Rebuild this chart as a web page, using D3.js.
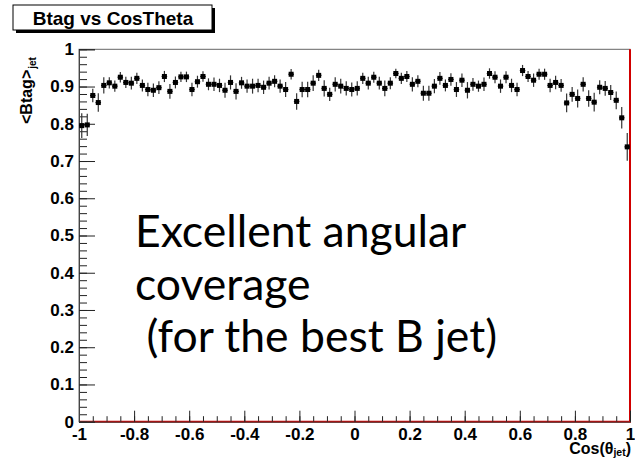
<!DOCTYPE html>
<html>
<head>
<meta charset="utf-8">
<script src="https://cdn.jsdelivr.net/npm/d3@7"></script>
<style>
  html, body { margin: 0; padding: 0; background: #fff; }
  svg { display: block; }
  .lbl { font-family: "Liberation Sans", Arial, sans-serif; font-weight: bold; }
</style>
</head>
<body>
<svg id="chart" width="635" height="459"></svg>
<script>
// Histogram binning along cos(theta_jet)
const xMin = -1, xMax = 1, nBins = 100;

// Mean b-tag value per bin
const meanBtag = [
  0.795, 0.797, 0.876, 0.857, 0.903, 0.910, 0.901, 0.925, 0.911, 0.909,
  0.922, 0.903, 0.892, 0.890, 0.897, 0.927, 0.887, 0.911, 0.926, 0.926,
  0.892, 0.913, 0.927, 0.906, 0.906, 0.903, 0.890, 0.911, 0.887, 0.910,
  0.901, 0.901, 0.903, 0.898, 0.909, 0.914, 0.901, 0.892, 0.933, 0.860,
  0.892, 0.892, 0.909, 0.930, 0.895, 0.879, 0.906, 0.901, 0.895, 0.892,
  0.895, 0.922, 0.909, 0.925, 0.909, 0.895, 0.909, 0.935, 0.922, 0.927,
  0.906, 0.914, 0.882, 0.882, 0.901, 0.922, 0.903, 0.919, 0.892, 0.917,
  0.890, 0.906, 0.901, 0.906, 0.935, 0.925, 0.901, 0.925, 0.903, 0.892,
  0.943, 0.927, 0.917, 0.933, 0.933, 0.903, 0.911, 0.903, 0.856, 0.879,
  0.868, 0.906, 0.868, 0.858, 0.898, 0.895, 0.884, 0.863, 0.816, 0.738
];

// Uncertainty on the mean per bin
const meanErr = [
  0.033, 0.030, 0.018, 0.025, 0.022, 0.015, 0.015, 0.014, 0.015, 0.017,
  0.015, 0.016, 0.018, 0.018, 0.017, 0.015, 0.020, 0.016, 0.014, 0.014,
  0.018, 0.016, 0.014, 0.016, 0.018, 0.018, 0.020, 0.019, 0.022, 0.016,
  0.018, 0.020, 0.018, 0.018, 0.017, 0.016, 0.018, 0.020, 0.014, 0.022,
  0.021, 0.021, 0.021, 0.015, 0.022, 0.018, 0.019, 0.020, 0.019, 0.019,
  0.019, 0.015, 0.017, 0.015, 0.017, 0.021, 0.016, 0.013, 0.015, 0.015,
  0.019, 0.016, 0.020, 0.020, 0.019, 0.017, 0.016, 0.017, 0.020, 0.018,
  0.022, 0.017, 0.015, 0.018, 0.014, 0.016, 0.018, 0.016, 0.018, 0.018,
  0.015, 0.015, 0.018, 0.015, 0.015, 0.018, 0.018, 0.017, 0.025, 0.020,
  0.024, 0.019, 0.022, 0.025, 0.019, 0.020, 0.020, 0.024, 0.029, 0.037
];

const xTickLabels = [-1, -0.8, -0.6, -0.4, -0.2, 0, 0.2, 0.4, 0.6, 0.8, 1];
const yTickLabels = [0, 0.1, 0.2, 0.3, 0.4, 0.5, 0.6, 0.7, 0.8, 0.9, 1];

const titleText = "Btag vs CosTheta";
const noteLines = ["Excellent angular", "coverage", " (for the best B jet)"];

const svg = d3.select("#chart");
const frame = { left: 79, right: 630, top: 49.3, bottom: 421.7 };

const x = d3.scaleLinear().domain([xMin, xMax]).range([frame.left, frame.right]);
const y = d3.scaleLinear().domain([0, 1]).range([frame.bottom, frame.top]);

const binW = (xMax - xMin) / nBins;
const data = meanBtag.map((v, i) => ({
  lo: xMin + i * binW,
  hi: xMin + (i + 1) * binW,
  c: xMin + (i + 0.5) * binW,
  v: v,
  e: meanErr[i]
}));

// plain hyphen-minus labels
const fmt = d => String(d);

// frame
svg.append("rect")
  .attr("x", frame.left).attr("y", frame.top)
  .attr("width", frame.right - frame.left).attr("height", frame.bottom - frame.top)
  .attr("fill", "none").attr("stroke", "#666").attr("stroke-width", 1);

// reference histogram outline in red (bottom edge and right edge)
svg.append("path")
  .attr("d", `M${x(xMin)},${y(0)} L${x(xMax)},${y(0)} L${x(xMax)},${y(1)}`)
  .attr("fill", "none").attr("stroke", "#d00000").attr("stroke-width", 2);

// minor ticks
const xMinor = d3.range(-1, 1.0001, 0.05).map(d => +d.toFixed(2));
const yMinor = d3.range(0, 1.0001, 0.02).map(d => +d.toFixed(2));

svg.append("g")
  .attr("transform", `translate(0,${frame.bottom})`)
  .call(d3.axisBottom(x).tickValues(xMinor).tickSize(-5.5).tickFormat(""))
  .call(g => g.select(".domain").remove())
  .call(g => g.selectAll("line").attr("stroke", "#222"));

svg.append("g")
  .attr("transform", `translate(${frame.left},0)`)
  .call(d3.axisLeft(y).tickValues(yMinor).tickSize(-8).tickFormat(""))
  .call(g => g.select(".domain").remove())
  .call(g => g.selectAll("line").attr("stroke", "#222"));

// major ticks with labels
svg.append("g")
  .attr("transform", `translate(0,${frame.bottom})`)
  .call(d3.axisBottom(x).tickValues(xTickLabels).tickSize(-11).tickPadding(4).tickFormat(fmt))
  .call(g => g.select(".domain").attr("stroke", "#444"))
  .call(g => g.selectAll("line").attr("stroke", "#222"))
  .call(g => g.selectAll("text").attr("class", "lbl").attr("font-size", 17)
    .attr("fill", "#000").attr("y", 5.5).attr("dy", "0.74em"));

svg.append("g")
  .attr("transform", `translate(${frame.left},0)`)
  .call(d3.axisLeft(y).tickValues(yTickLabels).tickSize(-16).tickPadding(5).tickFormat(fmt))
  .call(g => g.select(".domain").attr("stroke", "#444"))
  .call(g => g.selectAll("line").attr("stroke", "#222"))
  .call(g => g.selectAll("text").attr("class", "lbl").attr("font-size", 17)
    .attr("fill", "#000"));

// error bars
const pts = svg.append("g");
pts.selectAll("line.ey").data(data).join("line")
  .attr("class", "ey")
  .attr("x1", d => x(d.c)).attr("x2", d => x(d.c))
  .attr("y1", d => y(d.v - d.e)).attr("y2", d => y(d.v + d.e))
  .attr("stroke", "#333").attr("stroke-width", 1.2);
pts.selectAll("line.ex").data(data).join("line")
  .attr("class", "ex")
  .attr("x1", d => x(d.lo)).attr("x2", d => x(d.hi))
  .attr("y1", d => y(d.v)).attr("y2", d => y(d.v))
  .attr("stroke", "#111").attr("stroke-width", 1.2);
// markers
const ms = 5;
pts.selectAll("rect.m").data(data).join("rect")
  .attr("class", "m")
  .attr("x", d => x(d.c) - ms / 2).attr("y", d => y(d.v) - ms / 2)
  .attr("width", ms).attr("height", ms)
  .attr("fill", "#000");

// y title
const yt = svg.append("text")
  .attr("class", "lbl")
  .attr("transform", "translate(32,124) rotate(-90)")
  .attr("font-size", 16).attr("fill", "#000");
yt.append("tspan").text("<Btag>");
yt.append("tspan").attr("font-size", 10).attr("dy", 4).attr("dx", 1).text("jet");

// x title
const xt = svg.append("text")
  .attr("class", "lbl")
  .attr("x", 631).attr("y", 454)
  .attr("text-anchor", "end")
  .attr("font-size", 16).attr("fill", "#000");
xt.append("tspan").text("Cos(θ");
xt.append("tspan").attr("font-size", 10.5).attr("dy", 2).text("jet");
xt.append("tspan").attr("dy", -2).text(")");

// title box with drop shadow
svg.append("rect").attr("x", 16).attr("y", 8).attr("width", 199).attr("height", 25).attr("fill", "#000");
svg.append("rect").attr("x", 13).attr("y", 5).attr("width", 199).attr("height", 25)
  .attr("fill", "#fff").attr("stroke", "#000").attr("stroke-width", 1);
svg.append("text").attr("class", "lbl")
  .attr("x", 113).attr("y", 24.5).attr("text-anchor", "middle")
  .attr("font-size", 19).attr("fill", "#000").text(titleText);

// annotation
const note = svg.append("g")
  .attr("font-family", "Lato, 'Open Sans', sans-serif")
  .attr("font-size", 44.5).attr("fill", "#000");
noteLines.forEach((t, i) => {
  note.append("text")
    .attr("x", 135).attr("y", 247 + i * 52.5)
    .attr("xml:space", "preserve")
    .style("white-space", "pre")
    .text(t);
});
</script>
</body>
</html>
